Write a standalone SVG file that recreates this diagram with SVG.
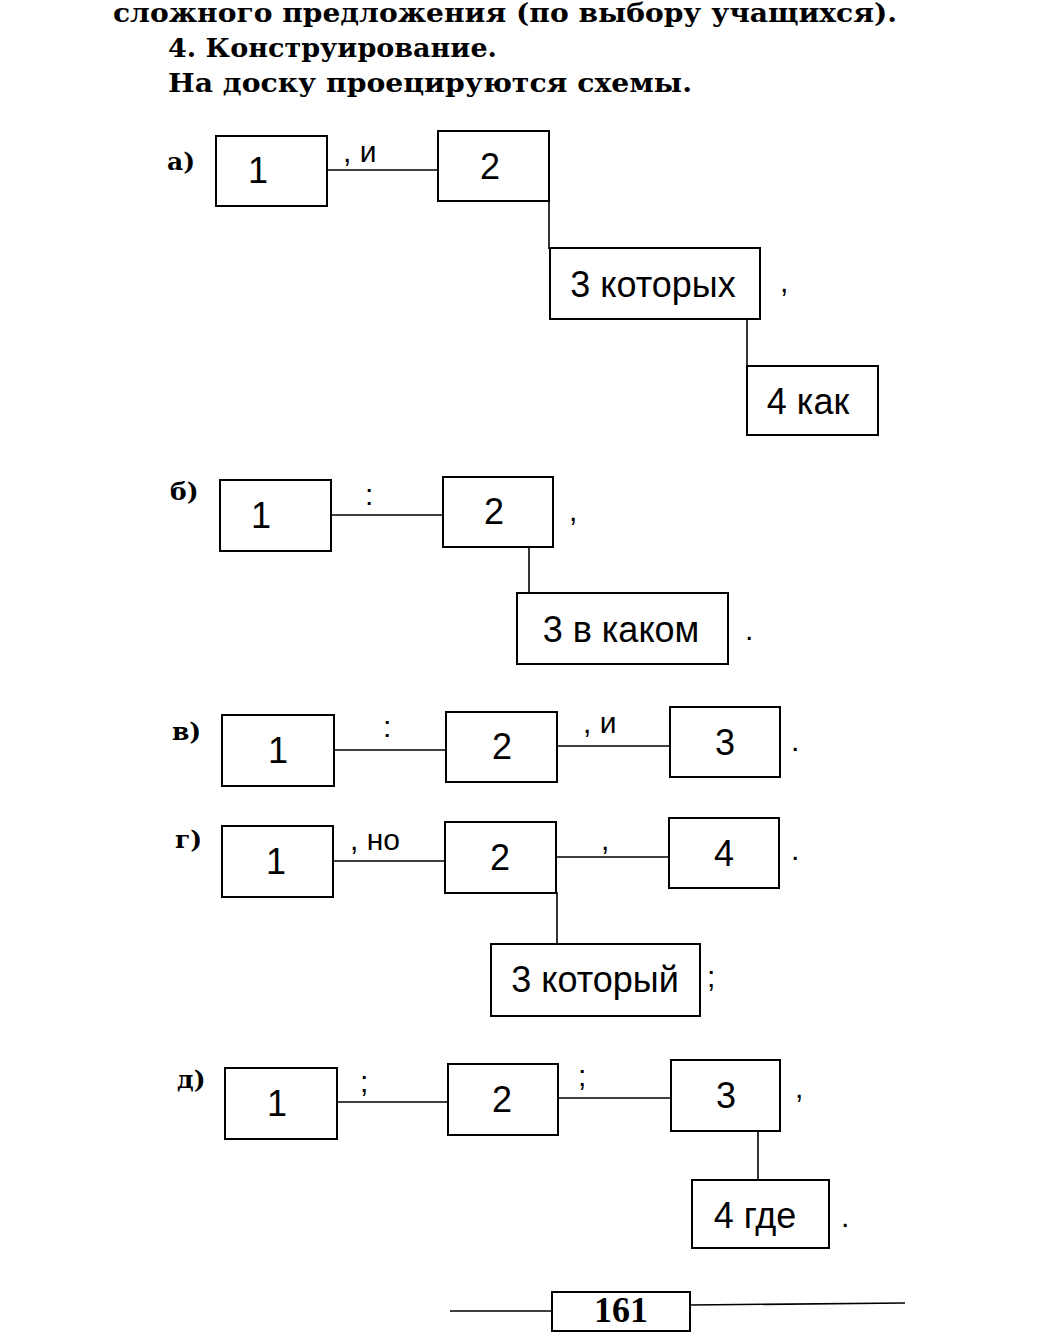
<svg xmlns="http://www.w3.org/2000/svg" width="1060" height="1335" viewBox="0 0 1060 1335">
<style>
.bg{fill:#fff}
.box{fill:#fff;stroke:#000;stroke-width:2}
.t{font-family:"Liberation Sans",Arial,sans-serif;font-size:36px;fill:#000;text-anchor:middle}
.p{font-family:"Liberation Sans",Arial,sans-serif;font-size:30px;fill:#000}
.lab{font-family:"DejaVu Serif","Liberation Serif",serif;font-size:25px;font-weight:bold;fill:#000}
.hd{font-family:"DejaVu Serif","Liberation Serif",serif;font-size:26px;font-weight:bold;fill:#000}
.c line,.c polyline{stroke:#000;stroke-width:1.6;fill:none}
</style>
<rect class="bg" width="1060" height="1335"/>
<g id="header">
<text class="hd" x="113" y="22" textLength="784" lengthAdjust="spacingAndGlyphs">сложного предложения (по выбору учащихся).</text>
<text class="hd" x="168" y="57" textLength="329" lengthAdjust="spacingAndGlyphs">4. Конструирование.</text>
<text class="hd" x="168" y="92" textLength="524" lengthAdjust="spacingAndGlyphs">На доску проецируются схемы.</text>
</g>
<g id="labels">
<text class="lab" x="167" y="170">а)</text>
<text class="lab" x="170" y="500">б)</text>
<text class="lab" x="172" y="740">в)</text>
<text class="lab" x="175" y="848">г)</text>
<text class="lab" x="177" y="1088">д)</text>
</g>
<g class="c" id="connectors">
<line x1="327" y1="170" x2="438" y2="170"/>
<line x1="549" y1="200" x2="549" y2="249"/>
<line x1="747" y1="318" x2="747" y2="367"/>
<line x1="331" y1="515" x2="443" y2="515"/>
<line x1="529" y1="546" x2="529" y2="594"/>
<line x1="334" y1="750" x2="446" y2="750"/>
<line x1="557" y1="746" x2="670" y2="746"/>
<line x1="333" y1="861" x2="445" y2="861"/>
<line x1="556" y1="857" x2="669" y2="857"/>
<line x1="557" y1="892" x2="557" y2="944"/>
<line x1="337" y1="1102" x2="448" y2="1102"/>
<line x1="558" y1="1098" x2="671" y2="1098"/>
<line x1="758" y1="1130" x2="758" y2="1180"/>
</g>
<g id="a1"><rect class="box" x="216" y="136" width="111" height="70"/><text class="t" x="258" y="183">1</text></g>
<g id="a2"><rect class="box" x="438" y="131" width="111" height="70"/><text class="t" x="490" y="179">2</text></g>
<g id="a3"><rect class="box" x="550" y="248" width="210" height="71"/><text class="t" x="653" y="297">3 которых</text></g>
<g id="a4"><rect class="box" x="747" y="366" width="131" height="69"/><text class="t" x="808" y="414">4 как</text></g>
<g id="a-punct"><text class="p" x="343" y="162">, и</text><text class="p" x="780" y="292">,</text></g>

<g id="b1"><rect class="box" x="220" y="480" width="111" height="71"/><text class="t" x="261" y="528">1</text></g>
<g id="b2"><rect class="box" x="443" y="477" width="110" height="70"/><text class="t" x="494" y="524">2</text></g>
<g id="b3"><rect class="box" x="517" y="593" width="211" height="71"/><text class="t" x="621" y="642">3 в каком</text></g>
<g id="b-punct"><text class="p" x="365" y="505">:</text><text class="p" x="569" y="521">,</text><text class="p" x="745" y="640">.</text></g>

<g id="v1"><rect class="box" x="222" y="715" width="112" height="71"/><text class="t" x="278" y="763">1</text></g>
<g id="v2"><rect class="box" x="446" y="712" width="111" height="70"/><text class="t" x="502" y="759">2</text></g>
<g id="v3"><rect class="box" x="670" y="707" width="110" height="70"/><text class="t" x="725" y="755">3</text></g>
<g id="v-punct"><text class="p" x="383" y="737">:</text><text class="p" x="583" y="733">, и</text><text class="p" x="791" y="751">.</text></g>

<g id="g1"><rect class="box" x="222" y="826" width="111" height="71"/><text class="t" x="276" y="874">1</text></g>
<g id="g2"><rect class="box" x="445" y="822" width="111" height="71"/><text class="t" x="500" y="870">2</text></g>
<g id="g4"><rect class="box" x="669" y="818" width="110" height="70"/><text class="t" x="724" y="866">4</text></g>
<g id="g3"><rect class="box" x="491" y="944" width="209" height="72"/><text class="t" x="595" y="992">3 который</text></g>
<g id="g-punct"><text class="p" x="350" y="850">, но</text><text class="p" x="601" y="850">,</text><text class="p" x="791" y="860">.</text><text class="p" x="707" y="987">;</text></g>

<g id="d1"><rect class="box" x="225" y="1068" width="112" height="71"/><text class="t" x="277" y="1116">1</text></g>
<g id="d2"><rect class="box" x="448" y="1064" width="110" height="71"/><text class="t" x="502" y="1112">2</text></g>
<g id="d3"><rect class="box" x="671" y="1060" width="109" height="71"/><text class="t" x="726" y="1108">3</text></g>
<g id="d4"><rect class="box" x="692" y="1180" width="137" height="68"/><text class="t" x="755" y="1228">4 где</text></g>
<g id="d-punct"><text class="p" x="360" y="1092">;</text><text class="p" x="578" y="1086">;</text><text class="p" x="795" y="1098">,</text><text class="p" x="841" y="1227">.</text></g>

<g id="footer">
<line x1="450" y1="1311" x2="552" y2="1311" stroke="#000" stroke-width="1.6"/>
<line x1="690" y1="1305" x2="905" y2="1303" stroke="#000" stroke-width="1.6"/>
<rect class="box" x="552" y="1292" width="138" height="39"/>
<text x="621" y="1322" text-anchor="middle" font-family="'Liberation Serif',serif" font-weight="bold" font-size="36">161</text>
</g>
</svg>
